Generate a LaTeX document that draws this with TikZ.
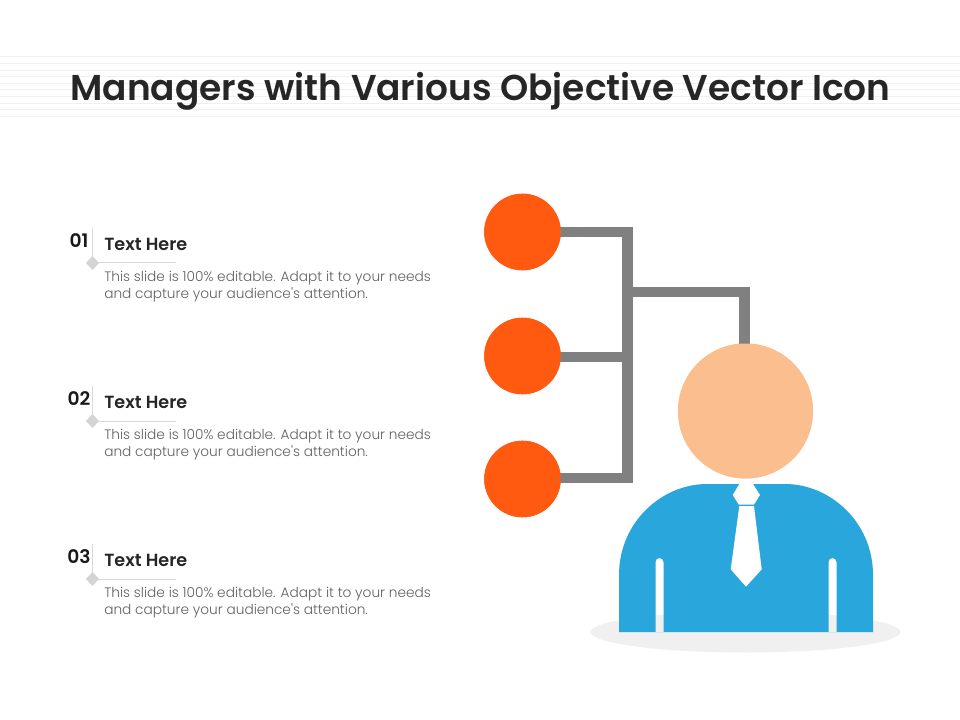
\documentclass[tikz,border=0pt]{standalone}
\usepackage{fontspec}
\setmainfont{Poppins}[BoldFont={Poppins SemiBold}]
\definecolor{wiregray}{HTML}{808080}
\definecolor{hubor}{HTML}{FF5A10}
\definecolor{skin}{HTML}{FBBF8F}
\definecolor{shirt}{HTML}{29A6DC}
\newfontfamily\bodyfont{Poppins Light}
\begin{document}
\begin{tikzpicture}[x=0.75pt,y=-0.75pt,
  stripe/.style={draw=black!6,line width=0.75pt},
  wire/.style={draw=wiregray,line width=7.8pt,line join=miter},
  hub/.style={circle,fill=hubor,draw=none,minimum size=57.4pt,inner sep=0pt},
  num/.style={font=\bfseries\fontsize{14}{16}\selectfont,text=black!90,inner sep=0pt,anchor=center},
  headtxt/.style={font=\fontsize{13.2}{15}\selectfont\bfseries,text=black!85,inner sep=0pt,anchor=west},
  bodytxt/.style={font=\bodyfont\fontsize{10.28}{12.75}\selectfont,text=black!62,inner sep=0pt,anchor=north west,align=left},
  rule/.style={draw=black!15,line width=0.75pt}]
\useasboundingbox (0,0) rectangle (960,720);
\fill[white] (0,0) rectangle (960,720);
\foreach \y in {57,63.6,70.2,76.8,83.4,90,96.6,103.2,109.8,116.4}
  \draw[stripe] (0,\y) -- (960,\y);
\node[font=\bfseries\fontsize{26.95}{32}\selectfont,text=black!85,inner sep=0pt] (title) at (480.5,91) {Managers with Various Objective Vector Icon};
% list
\foreach \i/\n/\d in {1/01/0,2/02/158,3/03/316}{
  \node[num] (n\i) at (79,240.5+\d) {\n};
  \node[headtxt] (h\i) at (104,244+\d) {Text Here};
  \coordinate (c\i) at (92.5,263+\d);
  \coordinate (t\i) at (92.5,228+\d);
  \coordinate (e\i) at (176,263+\d);
  \draw[rule] (t\i) -- (c\i) -- (e\i);
  \fill[black!17] (92.5,256+\d) -- (99,263+\d) -- (92.5,270+\d) -- (86,263+\d) -- cycle;
  \node[bodytxt] (b\i) at (104,270.5+\d) {This slide is 100\% editable. Adapt it to your needs\\and capture your audience's attention.};
}
% hubs and head
\node[hub] (o1) at (522.5,232) {};
\node[hub] (o2) at (522.5,356) {};
\node[hub] (o3) at (522.5,479) {};
\node[circle,fill=skin,minimum size=101.25pt,inner sep=0pt] (headc) at (745.5,411) {};
\coordinate (top) at (627.5,232);
\coordinate (mid) at (627.5,356.7);
\coordinate (bot) at (627.5,478);
\coordinate (br) at (627.5,292);
\coordinate (bc) at (744.5,292);
\coordinate (bd) at (744.5,350);
\begin{scope}
\draw[wire] (o1.center) -- (top) -- (bot) -- (o3.center |- bot);
\draw[wire] (o2.center |- mid) -- (mid);
\draw[wire] (br) -- (bc) -- (bd);
\end{scope}
\node[hub] at (o1) {};
\node[hub] at (o2) {};
\node[hub] at (o3) {};
\node[circle,fill=skin,minimum size=101.25pt,inner sep=0pt] at (headc) {};
% person
\fill[black!6] (745.5,632) ellipse [x radius=155,y radius=20.5];
\fill[shirt,even odd rule]
  (619,632) -- (619,575) .. controls (619,522) and (662,484) .. (707,484) -- (785,484)
  .. controls (830,484) and (873,522) .. (873,575) -- (873,632) -- cycle
  (655.5,632) -- (655.5,562) arc[start angle=180,end angle=360,radius=4] -- (663.5,632) -- cycle
  (828.5,632) -- (828.5,562) arc[start angle=180,end angle=360,radius=4] -- (836.5,632) -- cycle;
\fill[white] (739.3,484) -- (753,484) -- (760,495) -- (754,504.5) -- (738.7,504.5) -- (732.7,495) -- cycle;
\fill[white] (739.3,506) -- (754,506) -- (761.7,569.3) -- (746,586.7) -- (730.7,569.3) -- cycle;
\end{tikzpicture}
\end{document}
